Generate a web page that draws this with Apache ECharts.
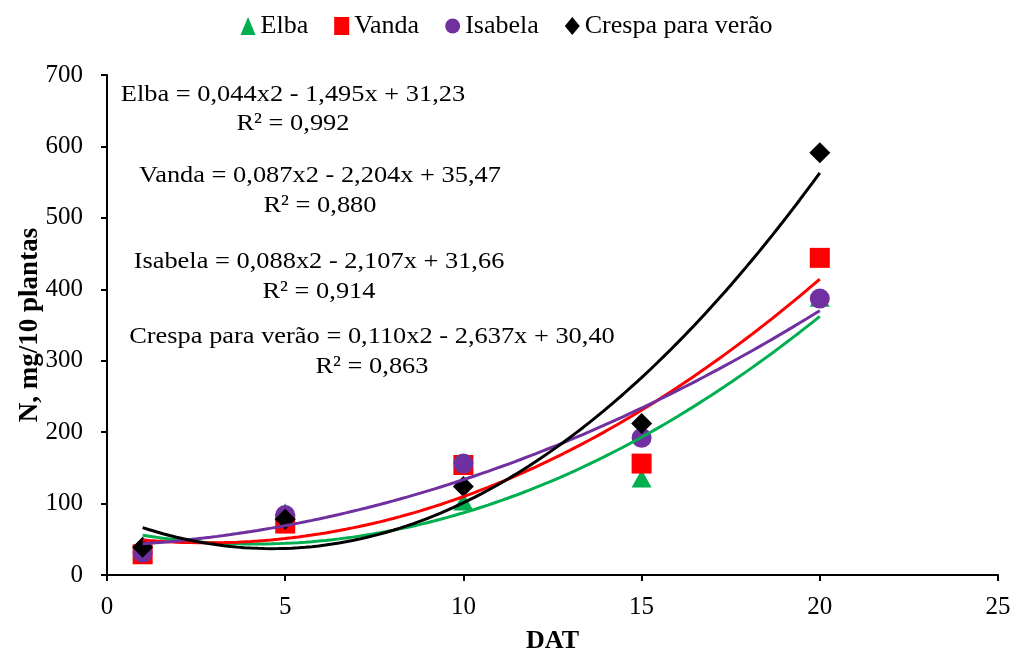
<!DOCTYPE html>
<html>
<head>
<meta charset="utf-8">
<script src="https://cdn.jsdelivr.net/npm/echarts@6/dist/echarts.min.js"></script>
<style>html,body{margin:0;padding:0;background:#fff}#c{width:1013px;height:654px}</style>
</head>
<body>
<div id="c"></div>
<script>
const days = [1, 5, 10, 15, 20];
const elba = [28, 88, 103, 135, 388];
const vanda = [29, 72, 154, 156, 444];
const isabela = [31, 84, 156, 192, 387];
const crespa = [39, 78, 124, 212, 591];
const seriesNames = ['Elba', 'Vanda', 'Isabela', 'Crespa para verão'];
const equations = [
  ['Elba = 0,044x2 - 1,495x + 31,23', 'R² = 0,992'],
  ['Vanda = 0,087x2 - 2,204x + 35,47', 'R² = 0,880'],
  ['Isabela = 0,088x2 - 2,107x + 31,66', 'R² = 0,914'],
  ['Crespa para verão = 0,110x2 - 2,637x + 30,40', 'R² = 0,863']
];

const colors = ['#00B050', '#FF0000', '#7030A0', '#000000'];
const symbols = ['triangle', 'rect', 'circle', 'diamond'];
const allValues = [elba, vanda, isabela, crespa];

// least-squares quadratic trendline (like a spreadsheet polynomial trendline)
function polyFit(xs, ys) {
  let S = [0,0,0,0,0], T = [0,0,0];
  for (let i = 0; i < xs.length; i++) {
    let p = 1;
    for (let k = 0; k < 5; k++) { S[k] += p; p *= xs[i]; }
    p = 1;
    for (let k = 0; k < 3; k++) { T[k] += p * ys[i]; p *= xs[i]; }
  }
  const A = [[S[0],S[1],S[2],T[0]],[S[1],S[2],S[3],T[1]],[S[2],S[3],S[4],T[2]]];
  for (let i = 0; i < 3; i++) {
    for (let j = i + 1; j < 3; j++) {
      const f = A[j][i] / A[i][i];
      for (let k = i; k < 4; k++) A[j][k] -= f * A[i][k];
    }
  }
  const c = [0,0,0];
  for (let i = 2; i >= 0; i--) {
    let s = A[i][3];
    for (let k = i + 1; k < 3; k++) s -= A[i][k] * c[k];
    c[i] = s / A[i][i];
  }
  return c;
}
function trend(xs, ys) {
  const c = polyFit(xs, ys);
  const out = [];
  const x0 = xs[0], x1 = xs[xs.length - 1];
  for (let i = 0; i <= 100; i++) {
    const x = x0 + (x1 - x0) * i / 100;
    out.push([x, c[0] + c[1] * x + c[2] * x * x]);
  }
  return out;
}

const series = [];
allValues.forEach((vals, i) => {
  series.push({
    name: seriesNames[i] + ' trend',
    type: 'line',
    data: trend(days, vals),
    showSymbol: false,
    smooth: false,
    lineStyle: { color: colors[i], width: 3 },
    z: 3,
    silent: true
  });
});
allValues.forEach((vals, i) => {
  series.push({
    name: seriesNames[i],
    type: 'scatter',
    data: days.map((d, j) => [d, vals[j]]),
    symbol: symbols[i],
    symbolSize: i === 0 ? [20, 18] : (i === 3 ? 21 : 20),
    itemStyle: { color: colors[i], opacity: 1 },
    z: 2
  });
});

const font = 'Liberation Serif';
const eqPos = [[293, 95, 124], [320, 176, 206], [319, 262, 292], [372, 337, 367]];
const gEls = [];
equations.forEach((eq, i) => {
  gEls.push({ type: 'text', x: eqPos[i][0], y: eqPos[i][1], scaleX: 1.1, style: { text: eq[0], font: '24px ' + font, fill: '#000', textAlign: 'center', textVerticalAlign: 'middle' } });
  gEls.push({ type: 'text', x: eqPos[i][0], y: eqPos[i][2], scaleX: 1.1, style: { text: eq[1], font: '24px ' + font, fill: '#000', textAlign: 'center', textVerticalAlign: 'middle' } });
});

const chart = echarts.init(document.getElementById('c'), null, { renderer: 'canvas' });
chart.setOption({
  animation: false,
  backgroundColor: '#fff',
  textStyle: { fontFamily: font },
  legend: {
    data: seriesNames,
    top: 8,
    left: 'center',
    itemWidth: 15,
    itemHeight: 18,
    itemGap: 26,
    textStyle: { fontFamily: font, fontSize: 26, color: '#000' }
  },
  grid: { left: 107, right: 15, top: 75, bottom: 79, containLabel: false, outerBoundsMode: 'none' },
  xAxis: {
    type: 'value', min: 0, max: 25, interval: 5,
    name: 'DAT', nameLocation: 'middle', nameGap: 53, nameMoveOverlap: false,
    nameTextStyle: { fontFamily: font, fontSize: 26, fontWeight: 'bold', color: '#000' },
    axisLine: { lineStyle: { color: '#000', width: 2 } },
    axisTick: { show: true, length: 6, lineStyle: { color: '#000', width: 2 } },
    axisLabel: { fontFamily: font, fontSize: 25, color: '#000', margin: 20 },
    splitLine: { show: false }
  },
  yAxis: {
    type: 'value', min: 0, max: 700, interval: 100,
    name: 'N, mg/10 plantas', nameLocation: 'middle', nameGap: 63, nameMoveOverlap: false,
    nameTextStyle: { fontFamily: font, fontSize: 27, fontWeight: 'bold', color: '#000' },
    axisLine: { show: true, lineStyle: { color: '#000', width: 2 } },
    axisTick: { show: true, length: 6, lineStyle: { color: '#000', width: 2 } },
    axisLabel: { fontFamily: font, fontSize: 25, color: '#000', margin: 24 },
    splitLine: { show: false }
  },
  graphic: gEls,
  series: series
});
</script>
</body>
</html>
